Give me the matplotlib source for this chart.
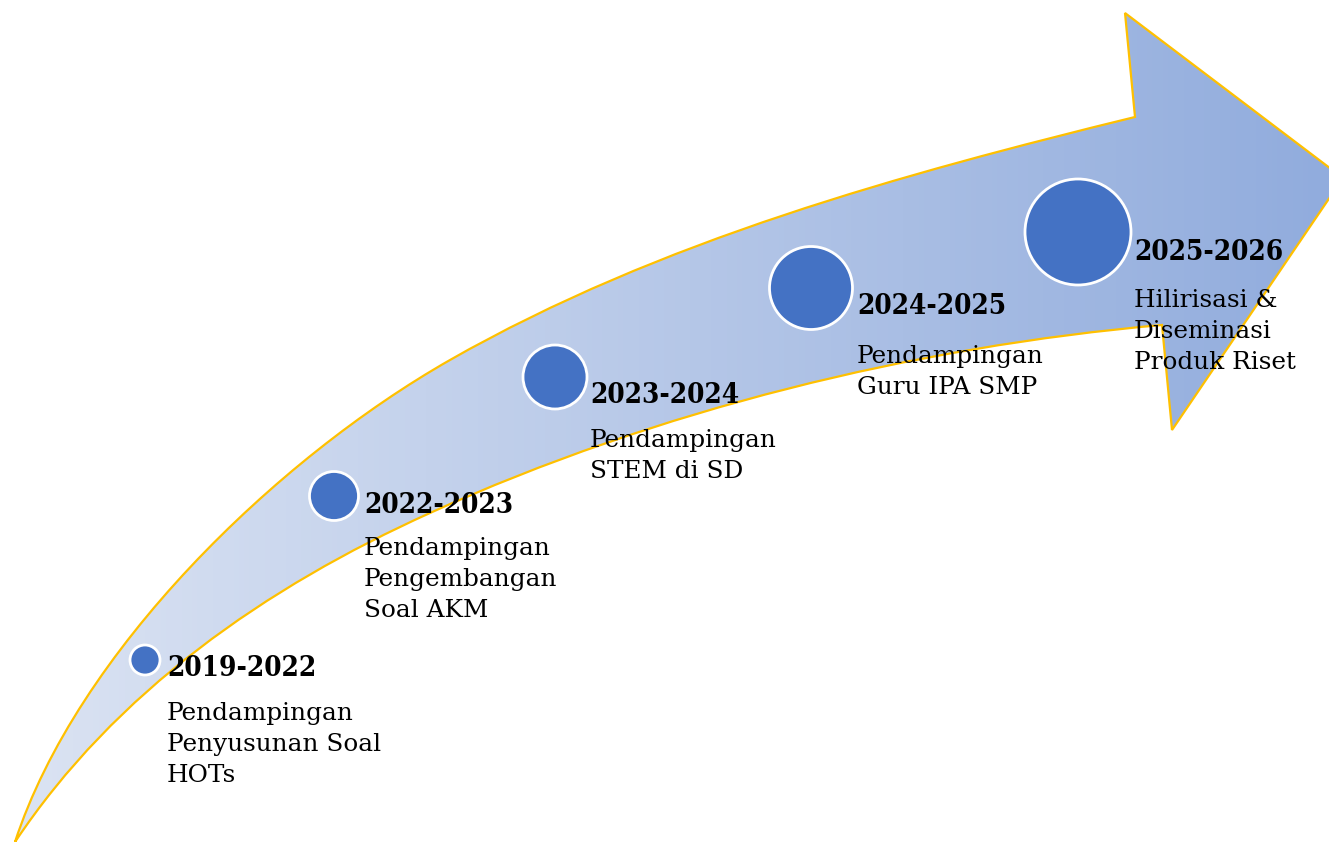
import numpy as np
import matplotlib
matplotlib.use('Agg')
import matplotlib.pyplot as plt
from matplotlib.path import Path
from matplotlib.patches import PathPatch, Circle
from matplotlib.colors import LinearSegmentedColormap

# timeline content
periods = ['2019-2022', '2022-2023', '2023-2024', '2024-2025', '2025-2026']
activities = [
    ['Pendampingan', 'Penyusunan Soal', 'HOTs'],
    ['Pendampingan', 'Pengembangan', 'Soal AKM'],
    ['Pendampingan', 'STEM di SD'],
    ['Pendampingan', 'Guru IPA SMP'],
    ['Hilirisasi &', 'Diseminasi', 'Produk Riset'],
]

# layout (pixels, origin top-left)
W, H = 1329, 842
dot_x = [145, 334, 555, 811, 1078]
dot_y = [660, 496, 377, 288, 232]
dot_r = [15, 24.5, 32, 41.5, 53]
text_x = [167, 364, 590, 857, 1134]
year_base = [676, 513, 403, 314, 260]
desc_base = [720, 555, 447, 363, 307]
line_gap = 31

plt.rcParams['font.family'] = 'DejaVu Serif'

fig = plt.figure(figsize=(W / 100, H / 100), dpi=100)
ax = fig.add_axes([0, 0, 1, 1])
ax.set_xlim(0, W)
ax.set_ylim(H, 0)
ax.axis('off')

# curved arrow: upper edge, head, lower edge back to the tail
verts = [
    (15, 842),
    (77, 652), (276, 459), (450, 360),
    (659, 241), (902, 174), (1135, 117),
    (1125, 13),
    (1343, 178),
    (1172, 430),
    (1162, 325),
    (913, 347), (658, 410), (430, 513),
    (266, 587), (115, 692), (15, 842),
    (15, 842),
]
codes = ([Path.MOVETO] + [Path.CURVE4] * 6 + [Path.LINETO] * 4
         + [Path.CURVE4] * 6 + [Path.CLOSEPOLY])
arrow = Path(verts, codes)

clip = PathPatch(arrow, facecolor='none', edgecolor='none')
ax.add_patch(clip)
cmap = LinearSegmentedColormap.from_list('band', ['#dce4f3', '#91acdd'])
grad = ax.imshow(np.linspace(0, 1, 256)[None, :], extent=(0, W, H, 0),
                 cmap=cmap, aspect='auto', zorder=1)
grad.set_clip_path(clip)
ax.add_patch(PathPatch(arrow, facecolor='none', edgecolor='#ffc000',
                       lw=1.6, joinstyle='miter', zorder=2))

for i in range(len(periods)):
    ax.add_patch(Circle((dot_x[i], dot_y[i]), dot_r[i], facecolor='#4472c4',
                        edgecolor='white', lw=2, zorder=3))
    ax.text(text_x[i], year_base[i], periods[i], fontsize=20, fontweight='bold',
            fontstretch='condensed', va='baseline', ha='left', color='black',
            zorder=4)
    for j, line in enumerate(activities[i]):
        ax.text(text_x[i], desc_base[i] + j * line_gap, line, fontsize=17.8,
                va='baseline', ha='left', color='black', zorder=4)

plt.savefig('out.png', dpi=100)
plt.close()
